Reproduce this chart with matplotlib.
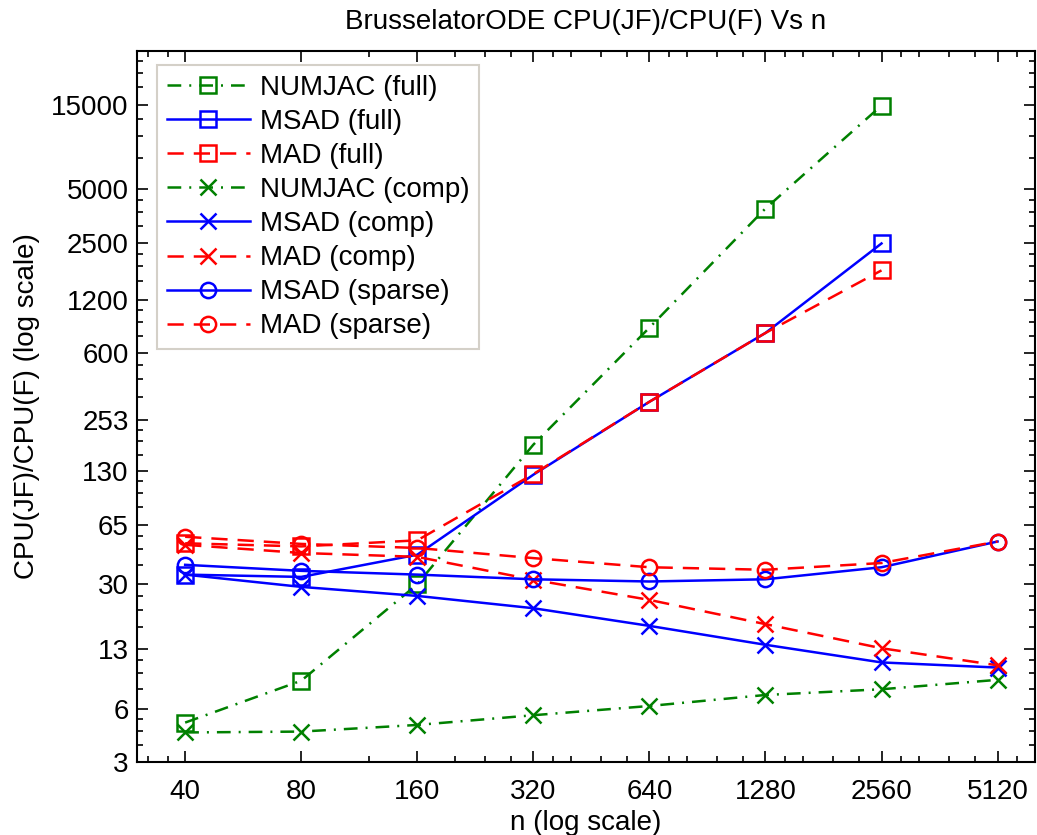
import matplotlib
matplotlib.use("Agg")
import matplotlib.pyplot as plt
from matplotlib.ticker import FixedLocator, NullFormatter

plt.rcParams['font.family'] = ['Liberation Sans', 'DejaVu Sans']

# problem sizes
n = [40, 80, 160, 320, 640, 1280, 2560, 5120]
n_full = n[:7]

# CPU(JF)/CPU(F) ratios
numjac_full = [5.0, 8.6, 30, 183, 833, 3900, 14800]
msad_full = [34, 33, 44, 124, 319, 778, 2480]
mad_full = [51, 49, 53, 125, 319, 778, 1750]
numjac_comp = [4.4, 4.45, 4.85, 5.5, 6.2, 7.15, 7.7, 8.7]
msad_comp = [34, 29, 25.8, 22, 17.5, 13.7, 10.9, 10.2]
mad_comp = [50, 45, 42.8, 31.8, 24.5, 17.9, 13.1, 10.5]
msad_sparse = [38.6, 35.7, 34, 32, 31.1, 32, 37.4, 52.2]
mad_sparse = [55.5, 50.6, 48, 42.1, 37.4, 36.2, 39.5, 52.2]

x_ticks = [40, 80, 160, 320, 640, 1280, 2560, 5120]
y_ticks = [3, 6, 13, 30, 65, 130, 253, 600, 1200, 2500, 5000, 15000]
x_minor = [32, 36, 120, 200, 240, 280, 360, 400, 480, 560, 720, 800, 960, 1120,
           1440, 1600, 1920, 2240, 2880, 3200, 3840, 4480, 5760, 6400]

GREEN = '#008000'
BLUE = '#0000ff'
RED = '#ff0000'

DASH = (0, (6.5, 4.0))
DASHDOT = (0, (5.5, 3.2, 0.8, 3.2))

fig = plt.figure(figsize=(10.37, 8.35), dpi=100)
ax = fig.add_axes([0.1321, 0.0874, 0.998 - 0.1321, 0.9389 - 0.0874])

common = dict(lw=1.8, ms=11, mew=1.8, mfc='none')
ax.plot(n_full, numjac_full, ls=DASHDOT, marker='s', color=GREEN, label='NUMJAC (full)', **common)
ax.plot(n_full, msad_full, ls='-', marker='s', color=BLUE, label='MSAD (full)', **common)
ax.plot(n_full, mad_full, ls=DASH, marker='s', color=RED, label='MAD (full)', **common)
ax.plot(n, numjac_comp, ls=DASHDOT, marker='x', color=GREEN, label='NUMJAC (comp)', **common)
ax.plot(n, msad_comp, ls='-', marker='x', color=BLUE, label='MSAD (comp)', **common)
ax.plot(n, mad_comp, ls=DASH, marker='x', color=RED, label='MAD (comp)', **common)
ax.plot(n, msad_sparse, ls='-', marker='o', color=BLUE, label='MSAD (sparse)', **common)
ax.plot(n, mad_sparse, ls=DASH, marker='o', color=RED, label='MAD (sparse)', **common)

ax.set_xscale('log')
ax.set_yscale('log')
ax.set_xlim(30, 6400)
ax.set_ylim(3, 30000)

ax.xaxis.set_major_locator(FixedLocator(x_ticks))
ax.set_xticklabels([str(v) for v in x_ticks])
ax.xaxis.set_minor_locator(FixedLocator(x_minor))
ax.xaxis.set_minor_formatter(NullFormatter())

y_minor = []
bounds = y_ticks + [30000]
for a, b in zip(bounds[:-1], bounds[1:]):
    for f in (0.25, 0.5, 0.75):
        y_minor.append(a + (b - a) * f)
ax.yaxis.set_major_locator(FixedLocator(y_ticks))
ax.set_yticklabels([str(v) for v in y_ticks])
ax.yaxis.set_minor_locator(FixedLocator(y_minor))
ax.yaxis.set_minor_formatter(NullFormatter())

ax.tick_params(which='both', direction='in', top=True, right=True, labelsize=20, width=1.2)
ax.tick_params(which='major', length=8)
ax.tick_params(which='minor', length=4)
ax.tick_params(axis='x', which='major', pad=12)
ax.tick_params(axis='y', which='major', pad=6)
for s in ax.spines.values():
    s.set_linewidth(1.5)

ax.set_title('BrusselatorODE CPU(JF)/CPU(F) Vs n', fontsize=20, pad=16)
ax.set_xlabel('n (log scale)', fontsize=20, labelpad=4)
ax.set_ylabel('CPU(JF)/CPU(F) (log scale)', fontsize=20, labelpad=8)

leg = ax.legend(loc='upper left', bbox_to_anchor=(0.0223, 0.980), borderaxespad=0,
                fontsize=20, numpoints=1, handlelength=3.0, handletextpad=0.35,
                labelspacing=0.29, borderpad=0.35, fancybox=False, framealpha=1,
                edgecolor='#d4d0c8')
leg.get_frame().set_linewidth(1.5)

fig.savefig('out.png', dpi=100)
